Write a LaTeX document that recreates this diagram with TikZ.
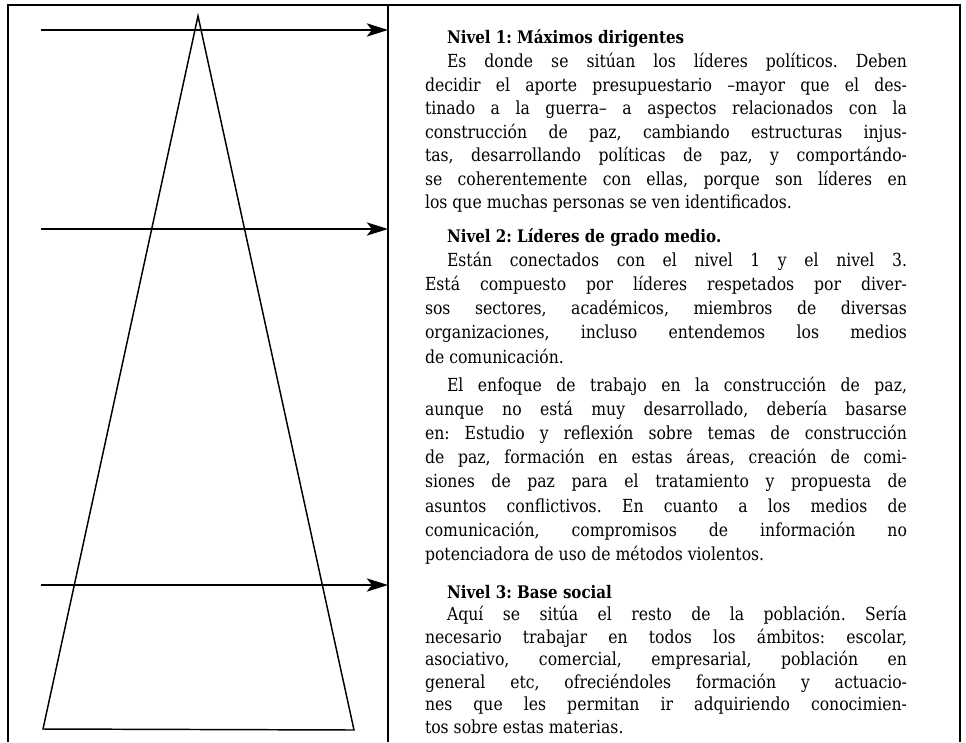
\documentclass[tikz,border=0pt]{standalone}
\usepackage{fontspec}
\setmainfont{DejaVu Serif}[FakeStretch=0.87]
\usetikzlibrary{arrows.meta}
\frenchspacing
\newlength{\fw}\setlength{\fw}{361.5pt}
\newlength{\iw}\setlength{\iw}{345pt}
\newcommand{\J}[1]{\makebox[\fw][s]{#1}}
\newcommand{\JI}[1]{\makebox[\iw][s]{#1}}
\tikzset{
 frameline/.style={line width=1.1pt},
 lvlarrow/.style={line width=1.1pt,-{Stealth[length=16pt,width=10pt,inset=4pt]}},
 pyr/.style={line width=1.1pt,line join=miter},
 txt/.style={anchor=base west,inner sep=0pt,outer sep=0pt,font=\fontsize{13.5}{15}\selectfont\frenchspacing},
 ttl/.style={anchor=base west,inner sep=0pt,outer sep=0pt,font=\fontsize{13}{15}\selectfont\bfseries\frenchspacing},
}
\begin{document}
\begin{tikzpicture}[x=0.75pt,y=-0.75pt]
\useasboundingbox (0,0) rectangle (966,742);
% frame
\coordinate (fbl) at (8,742);
\coordinate (ftl) at (8,5);
\coordinate (ftr) at (960,5);
\coordinate (fbr) at (960,742);
\coordinate (dt) at (388,5);
\coordinate (db) at (388,742);
\draw[frameline] (fbl) -- (ftl) -- (ftr) -- (fbr);
\draw[frameline] (dt) -- (db);
% pyramid
\coordinate (apex) at (198,16);
\coordinate (bl) at (43,729);
\coordinate (br) at (354,730);
\draw[pyr] (apex) -- (bl) -- (br) -- cycle;
% arrows
\coordinate (a1s) at (41,30);  \coordinate (a1e) at (388,30);
\coordinate (a2s) at (41,229); \coordinate (a2e) at (388,229);
\coordinate (a3s) at (41,585); \coordinate (a3e) at (388,585);
\draw[lvlarrow] (a1s) -- (a1e);
\draw[lvlarrow] (a2s) -- (a2e);
\draw[lvlarrow] (a3s) -- (a3e);
% Nivel 1
\node[ttl] (t1) at (447,44) {Nivel 1: Máximos dirigentes};
\node[txt] (p1a) at (447,67.5) {\JI{Es donde se sitúan los líderes políticos. Deben}};
\node[txt] (p1b) at (425,91) {\J{decidir el aporte presupuestario –mayor que el des-}};
\node[txt] (p1c) at (425,114.5) {\J{tinado a la guerra– a aspectos relacionados con la}};
\node[txt] (p1d) at (425,138) {\J{construcción de paz, cambiando estructuras injus-}};
\node[txt] (p1e) at (425,161.5) {\J{tas, desarrollando políticas de paz, y comportándo-}};
\node[txt] (p1f) at (425,185) {\J{se coherentemente con ellas, porque son líderes en}};
\node[txt] (p1g) at (425,208.5) {los que muchas personas se ven identificados.};
% Nivel 2
\node[ttl] (t2) at (447,242) {Nivel 2: Líderes de grado medio.};
\node[txt] (p2a) at (447,266.2) {\JI{Están conectados con el nivel 1 y el nivel 3.}};
\node[txt] (p2b) at (425,290.4) {\J{Está compuesto por líderes respetados por diver-}};
\node[txt] (p2c) at (425,314.6) {\J{sos sectores, académicos, miembros de diversas}};
\node[txt] (p2d) at (425,338.8) {\J{organizaciones, incluso entendemos los medios}};
\node[txt] (p2e) at (425,363) {de comunicación.};
\node[txt] (p2f) at (447,391) {\JI{El enfoque de trabajo en la construcción de paz,}};
\node[txt] (p2g) at (425,415.2) {\J{aunque no está muy desarrollado, debería basarse}};
\node[txt] (p2h) at (425,439.4) {\J{en: Estudio y reflexión sobre temas de construcción}};
\node[txt] (p2i) at (425,463.6) {\J{de paz, formación en estas áreas, creación de comi-}};
\node[txt] (p2j) at (425,487.8) {\J{siones de paz para el tratamiento y propuesta de}};
\node[txt] (p2k) at (425,512) {\J{asuntos conflictivos. En cuanto a los medios de}};
\node[txt] (p2l) at (425,536.2) {\J{comunicación, compromisos de información no}};
\node[txt] (p2m) at (425,560.4) {potenciadora de uso de métodos violentos.};
% Nivel 3
\node[ttl] (t3) at (447,598) {Nivel 3: Base social};
\node[txt] (p3a) at (447,620.5) {\JI{Aquí se sitúa el resto de la población. Sería}};
\node[txt] (p3b) at (425,643) {\J{necesario trabajar en todos los ámbitos: escolar,}};
\node[txt] (p3c) at (425,665.5) {\J{asociativo, comercial, empresarial, población en}};
\node[txt] (p3d) at (425,688) {\J{general etc, ofreciéndoles formación y actuacio-}};
\node[txt] (p3e) at (425,710.5) {\J{nes que les permitan ir adquiriendo conocimien-}};
\node[txt] (p3f) at (425,733) {tos sobre estas materias.};
\end{tikzpicture}
\end{document}
